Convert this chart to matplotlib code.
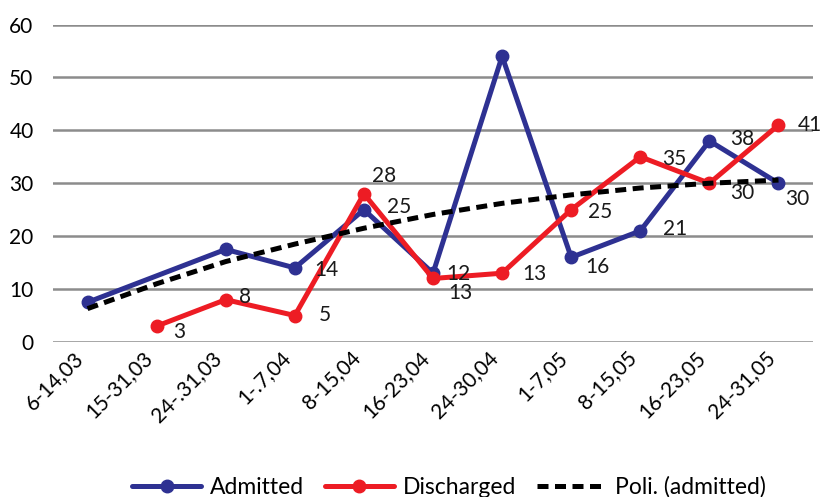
import numpy as np
import matplotlib

matplotlib.use("Agg")
import matplotlib.pyplot as plt


periods = [
    "6-14,03", "15-31,03", "24-.31,03", "1-.7,04", "8-15,04", "16-23,04",
    "24-30,04", "1-7,05", "8-15,05", "16-23,05", "24-31,05",
]
admitted = [7.5, np.nan, 17.5, 14, 25, 13, 54, 16, 21, 38, 30]
discharged = [np.nan, 3, 8, 5, 28, 12, 13, 25, 35, 30, 41]
# polynomial trend of admitted cases
trend = [6.3, 11.0, 15.2, 18.5, 21.5, 24.1, 26.2, 27.8, 29.1, 30.0, 30.6]

# which labels to show and where (pixel offsets from the point)
admitted_labels = {3: (32, -2), 4: (35, 3), 5: (27, -20), 7: (26, -10),
                   8: (35, 2), 9: (33, 2), 10: (19, -16)}
discharged_labels = {1: (23, -6), 2: (19, 3), 3: (30, 1), 4: (20, 18),
                     5: (25, 4), 6: (32, -1), 7: (29, -2), 8: (34, -2),
                     9: (33, -10), 10: (31, 0)}

BLUE = "#2E3192"
RED = "#ED1C24"

plt.rcParams["font.family"] = ["Lato", "DejaVu Sans"]


def plot_series(ax, values, color, label):
    x = np.arange(len(values))
    y = np.array(values, dtype=float)
    ok = ~np.isnan(y)
    ax.plot(x[ok], y[ok], color=color, lw=3.6, marker="o", ms=9,
            label=label, solid_capstyle="round", zorder=3)


def add_labels(ax, values, labels):
    for i, (dx, dy) in labels.items():
        ax.annotate(f"{values[i]:g}", (i, values[i]), xytext=(dx, dy),
                    textcoords="offset pixels", ha="center", va="center",
                    fontsize=15, color="#1a1a1a", zorder=5)


fig = plt.figure(figsize=(8.24, 4.97), dpi=100)
ax = fig.add_axes([0.0643, 0.3119, 0.9224, 0.6388])

plot_series(ax, admitted, BLUE, "Admitted")
plot_series(ax, discharged, RED, "Discharged")
ax.plot(np.arange(len(trend)), trend, color="black", lw=3.6,
        ls=(0, (2.2, 1.3)), label="Poli. (admitted)", zorder=4)

add_labels(ax, admitted, admitted_labels)
add_labels(ax, discharged, discharged_labels)

ax.set_xlim(-0.5, len(periods) - 0.5)
ax.set_ylim(0, 60)
ax.set_yticks(np.arange(0, 61, 10))
ax.set_xticks(np.arange(len(periods)))
ax.set_xticklabels(periods, rotation=45, ha="right", fontsize=15)
ax.tick_params(axis="y", labelsize=15, length=0, pad=14)
ax.tick_params(axis="x", length=0, pad=4)
ax.yaxis.grid(True, color="#8C8C8C", lw=1.8)
ax.set_axisbelow(True)
for s in ax.spines.values():
    s.set_visible(False)

fig.legend(loc="center", bbox_to_anchor=(0.545, 0.02), ncol=3,
           frameon=False, fontsize=16.5, handlelength=3.0, columnspacing=0.9,
           handletextpad=0.4)

fig.savefig("out.png", dpi=100)
plt.close(fig)
